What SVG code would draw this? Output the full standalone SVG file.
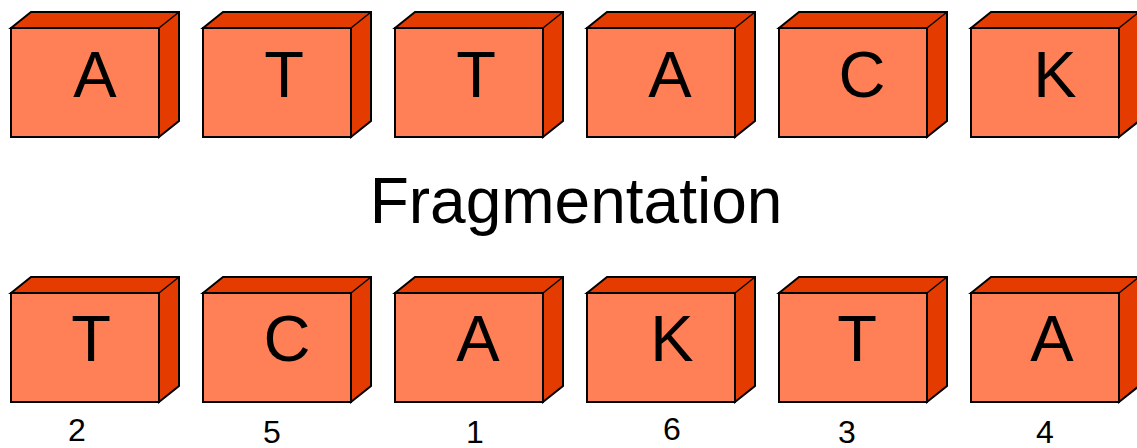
<svg xmlns="http://www.w3.org/2000/svg" width="1137" height="448" viewBox="0 0 1137 448">
  <defs>
    <style>
      .front { fill: #ff7f56; stroke: #000; stroke-width: 2; }
      .side { fill: #e33b00; stroke: #000; stroke-width: 2; stroke-linejoin: miter; }
      .letter { font-family: "Liberation Sans", Arial, sans-serif; font-size: 65px; fill: #000; text-anchor: middle; }
      .title { font-family: "Liberation Sans", Arial, sans-serif; font-size: 64px; fill: #000; text-anchor: middle; }
      .num { font-family: "Liberation Sans", Arial, sans-serif; font-size: 32px; fill: #000; text-anchor: middle; }
    </style>
    <!-- one block: front face 148x109, depth offset (20,-16) -->
    <g id="block">
      <path class="side" d="M0,0 L20,-16 L168,-16 L168,93 L148,109 L148,0 Z"/>
      <line x1="148" y1="0" x2="168" y2="-16" stroke="#000" stroke-width="1.5"/>
      <rect class="front" x="0" y="0" width="148" height="109"/>
    </g>
  </defs>
  <rect width="1137" height="448" fill="#fff"/>

  <!-- original word -->
  <g id="top-row">
    <g id="top-1"><use href="#block" x="11" y="28"/><text class="letter" x="95" y="97">A</text></g>
    <g id="top-2"><use href="#block" x="203" y="28"/><text class="letter" x="284" y="97">T</text></g>
    <g id="top-3"><use href="#block" x="395" y="28"/><text class="letter" x="476" y="97">T</text></g>
    <g id="top-4"><use href="#block" x="587" y="28"/><text class="letter" x="670" y="97">A</text></g>
    <g id="top-5"><use href="#block" x="779" y="28"/><text class="letter" x="862" y="97">C</text></g>
    <g id="top-6"><use href="#block" x="971" y="28"/><text class="letter" x="1055" y="97">K</text></g>
  </g>

  <text id="caption" class="title" x="576" y="223">Fragmentation</text>

  <!-- shuffled fragments -->
  <g id="bottom-row">
    <g id="bottom-1"><use href="#block" x="11" y="293"/><text class="letter" x="91" y="361">T</text><text class="num" x="77" y="441">2</text></g>
    <g id="bottom-2"><use href="#block" x="203" y="293"/><text class="letter" x="287" y="361">C</text><text class="num" x="272" y="443">5</text></g>
    <g id="bottom-3"><use href="#block" x="395" y="293"/><text class="letter" x="478" y="361">A</text><text class="num" x="475" y="443">1</text></g>
    <g id="bottom-4"><use href="#block" x="587" y="293"/><text class="letter" x="672" y="361">K</text><text class="num" x="672" y="440">6</text></g>
    <g id="bottom-5"><use href="#block" x="779" y="293"/><text class="letter" x="857" y="361">T</text><text class="num" x="847" y="443">3</text></g>
    <g id="bottom-6"><use href="#block" x="971" y="293"/><text class="letter" x="1052" y="361">A</text><text class="num" x="1045" y="443">4</text></g>
  </g>

  <g id="connectors"/>
</svg>
